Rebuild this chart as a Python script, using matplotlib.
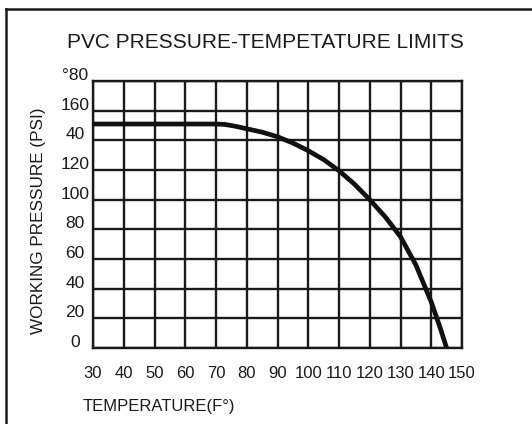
import matplotlib
matplotlib.use("Agg")
import matplotlib.pyplot as plt
from matplotlib.lines import Line2D
from matplotlib.transforms import ScaledTranslation

plt.rcParams['font.family'] = ['Liberation Sans', 'DejaVu Sans']

# Data
temperature_f = [30, 40, 50, 60, 70, 73, 76, 80, 85, 90, 95, 100, 105, 110, 115,
                 120, 125, 130, 135, 140, 143, 145]
pressure_psi = [151, 151, 151, 151, 151, 150.7, 149.6, 147.8, 145.5, 142.4, 138.2,
                133, 127, 119.5, 110.5, 100, 88.5, 75, 56, 31, 13, 0]

x_ticks = [30, 40, 50, 60, 70, 80, 90, 100, 110, 120, 130, 140, 150]
x_tick_labels = [str(v) for v in x_ticks]
y_ticks = [0, 20, 40, 60, 80, 100, 120, 140, 160, 180]
y_tick_labels = ["0", "20", "40", "60", "80", "100", "120", "40", "160", "°80"]

title = "PVC PRESSURE-TEMPETATURE LIMITS"
x_label = "TEMPERATURE(F°)"
y_label = "WORKING PRESSURE (PSI)"

W, H = 532, 424
fig = plt.figure(figsize=(W / 100, H / 100), dpi=100)
fig.patch.set_facecolor("white")

left, right, top, bottom = 93, 462, 81, 348
ax = fig.add_axes([left / W, 1 - bottom / H, (right - left) / W, (bottom - top) / H])

ink = "#1a1a1a"
ax.plot(temperature_f, pressure_psi, color="#111111", linewidth=3.4,
        solid_capstyle="butt", solid_joinstyle="round", zorder=3)

ax.set_xlim(30, 150)
ax.set_ylim(0, 180)
ax.set_xticks(x_ticks)
ax.set_xticklabels(x_tick_labels)
ax.set_yticks(y_ticks)
ax.set_yticklabels(y_tick_labels)
ax.grid(True, color=ink, linewidth=1.7, zorder=1)
ax.set_axisbelow(True)
for s in ax.spines.values():
    s.set_linewidth(1.7)
    s.set_color(ink)

ax.tick_params(axis="x", length=0, pad=13, labelsize=12, labelcolor=ink)
ax.tick_params(axis="y", length=0, pad=13, labelsize=12.5, labelcolor=ink)
for lab in ax.get_yticklabels():
    lab.set_horizontalalignment("center")
    lab.set_transform(lab.get_transform() + ScaledTranslation(0, 7 / 100, fig.dpi_scale_trans))

fig.text(265 / W, 1 - 42 / H, title, ha="center", va="center", fontsize=15, color=ink)
fig.text(83 / W, 1 - 407 / H, x_label, ha="left", va="center", fontsize=12, color=ink)
fig.text(39 / W, 1 - 221 / H, y_label, ha="center", va="center", rotation=90,
         fontsize=12.3, color=ink)

# Frame border (left and top visible)
fig.add_artist(Line2D([6 / W, 6 / W], [0, 1 - 9 / H], color=ink, linewidth=1.8))
fig.add_artist(Line2D([6 / W, 1], [1 - 9 / H, 1 - 9 / H], color=ink, linewidth=1.8))

fig.savefig("out.png", dpi=100, facecolor="white")
